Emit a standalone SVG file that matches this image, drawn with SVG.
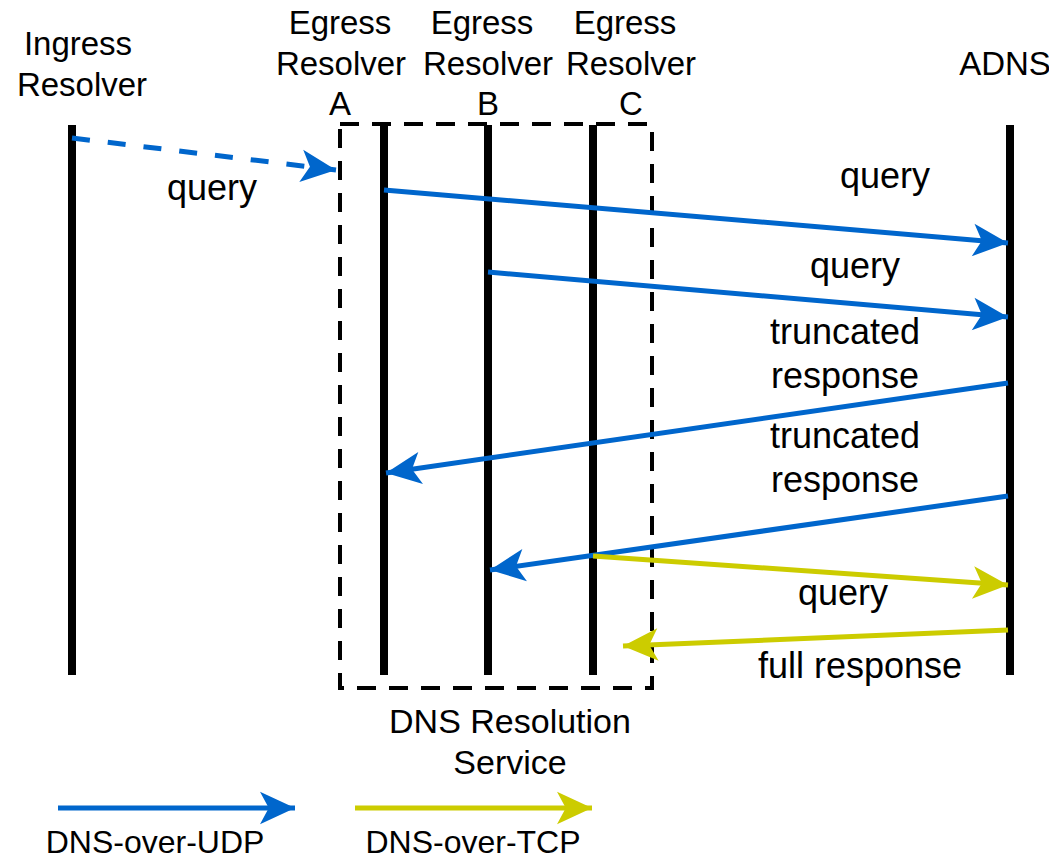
<svg xmlns="http://www.w3.org/2000/svg" width="1049" height="859" viewBox="0 0 1049 859">
<defs>
<style>
text{font-family:"Liberation Sans",Arial,sans-serif;font-size:33px;fill:#000;text-anchor:middle}
.lbl{font-size:36px}
.leg{font-size:32px}
.svc{font-size:34px}
.life{stroke:#000;stroke-width:8;fill:none}
.udp{stroke:#0066CC;stroke-width:5;fill:none;marker-end:url(#ab)}
.tcp{stroke:#CCCC00;stroke-width:5;fill:none;marker-end:url(#ay)}
</style>
<marker id="ab" markerUnits="userSpaceOnUse" markerWidth="40" markerHeight="40" viewBox="-30 -15 32 30" refX="0" refY="0" orient="auto"><path d="M0,0 L-28,-13 L-21,0 L-28,13 Z" fill="#0066CC"/></marker>
<marker id="ay" markerUnits="userSpaceOnUse" markerWidth="40" markerHeight="40" viewBox="-30 -15 32 30" refX="0" refY="0" orient="auto"><path d="M0,0 L-28,-13 L-21,0 L-28,13 Z" fill="#CCCC00"/></marker>
</defs>
<rect width="1049" height="859" fill="#fff"/>
<g id="service-box">
<rect x="340" y="124" width="312" height="564" fill="none" stroke="#000" stroke-width="4" stroke-dasharray="19 13"/>
<text class="svc" x="510" y="733">DNS Resolution</text>
<text class="svc" x="510" y="774">Service</text>
</g>
<g id="ingress">
<line class="life" x1="72" y1="125" x2="72" y2="675"/>
<text x="78" y="55">Ingress</text>
<text x="82" y="96">Resolver</text>
</g>
<g id="egress-a">
<line class="life" x1="384" y1="125" x2="384" y2="675"/>
<text x="340" y="34">Egress</text>
<text x="341" y="75">Resolver</text>
<text x="340" y="115">A</text>
</g>
<g id="egress-b">
<line class="life" x1="488" y1="125" x2="488" y2="675"/>
<text x="482" y="34">Egress</text>
<text x="488" y="75">Resolver</text>
<text x="488" y="115">B</text>
</g>
<g id="egress-c">
<line class="life" x1="593" y1="125" x2="593" y2="675"/>
<text x="625" y="34">Egress</text>
<text x="631" y="75">Resolver</text>
<text x="631" y="115">C</text>
</g>
<g id="adns">
<line class="life" x1="1010" y1="125" x2="1010" y2="675"/>
<text x="1005" y="75">ADNS</text>
</g>
<g id="connectors">
<line class="udp" x1="72" y1="138" x2="336" y2="170" stroke-dasharray="18 18"/>
<line class="udp" x1="384" y1="190" x2="1008" y2="243"/>
<line class="udp" x1="488" y1="272" x2="1008" y2="317"/>
<line class="udp" x1="1008" y1="383" x2="386" y2="473"/>
<line class="udp" x1="1008" y1="496" x2="490" y2="570"/>
<line class="tcp" x1="593" y1="556" x2="1008" y2="585"/>
<line class="tcp" x1="1008" y1="630" x2="623" y2="646"/>
</g>
<g id="labels">
<text class="lbl" x="212" y="200">query</text>
<text class="lbl" x="885" y="188">query</text>
<text class="lbl" x="855" y="278">query</text>
<text class="lbl" x="845" y="344">truncated</text>
<text class="lbl" x="845" y="388">response</text>
<text class="lbl" x="845" y="448">truncated</text>
<text class="lbl" x="845" y="492">response</text>
<text class="lbl" x="843" y="605">query</text>
<text class="lbl" x="860" y="678">full response</text>
</g>
<g id="legend">
<line class="udp" x1="58" y1="808" x2="295" y2="808"/>
<line class="tcp" x1="355" y1="808" x2="592" y2="808"/>
<text class="leg" x="155" y="853">DNS-over-UDP</text>
<text class="leg" x="473" y="853">DNS-over-TCP</text>
</g>
</svg>
